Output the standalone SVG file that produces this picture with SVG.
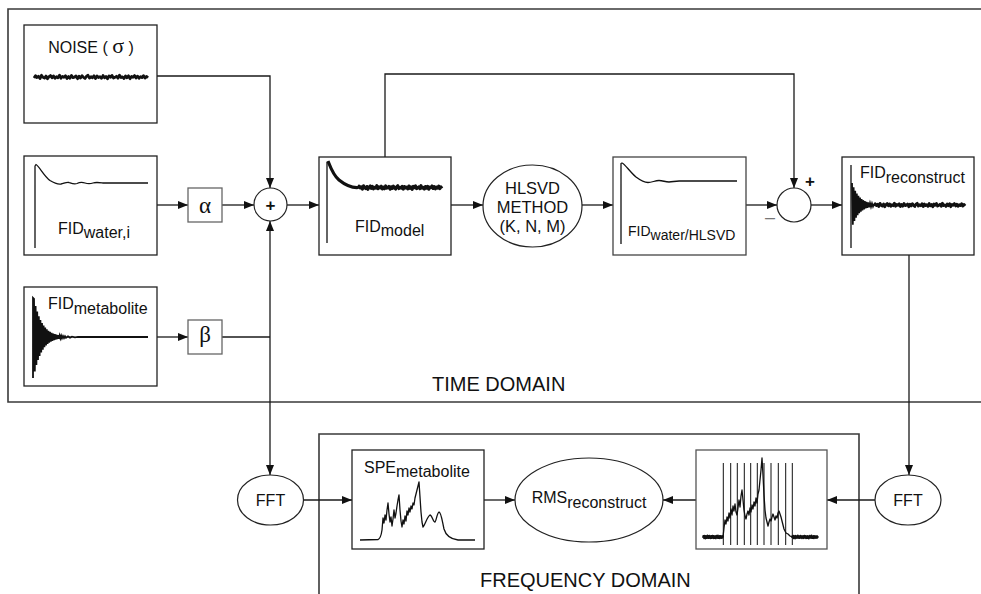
<svg xmlns="http://www.w3.org/2000/svg" xmlns:xlink="http://www.w3.org/1999/xlink" width="981" height="594" viewBox="0 0 981 594">
<style>
text{font-family:"Liberation Sans",Arial,sans-serif;fill:#111;font-size:16px}
.serif{font-family:"Liberation Serif","Times New Roman",serif}
.box{fill:#fff;stroke:#222;stroke-width:1.3}
.gbox{fill:#fff;stroke:#666;stroke-width:1.3}
.ell{fill:#fff;stroke:#222;stroke-width:1.2}
.dom{fill:none;stroke:#3a3a3a;stroke-width:1.6}
.sig{fill:none;stroke:#111;stroke-width:1.3;stroke-linejoin:round}
.dense{fill:none;stroke:#111;stroke-width:1.8;stroke-linejoin:miter}
.nz{fill:none;stroke:#111;stroke-linejoin:round}
.conn path{fill:none;stroke:#1a1a1a;stroke-width:1.3}
.arr{marker-end:url(#ah)}
</style>
<defs>
<marker id="ah" markerUnits="userSpaceOnUse" markerWidth="10" markerHeight="8" refX="10" refY="4" orient="auto">
<path d="M0,0 L10,4 L0,8 z" fill="#111"/>
</marker>
<path id="nz" vector-effect="non-scaling-stroke" d="M0,0.8 L1.5,-1.1 L3,0.4 L4.5,-0.6 L6,1.3 L7.5,-1.4 L9,0.2 L10.5,0.9 L12,-0.8 L13.5,1.5 L15,-0.3 L16.5,-1.2 L18,0.7 L19.5,-0.9 L21,1.1 L22.5,-0.2 L24,0.6 L25.5,-1.5 L27,1 L28.5,-0.5 L30,0.3 L31.5,-1 L33,1.2 L34.5,-0.4 L36,1 L37.5,-1.3 L39,0.5 L40.5,0.1 L42,-0.9 L43.5,1.4 L45,-0.6 L46.5,0.8 L48,-1.1 L49.5,0.3 L51,1.2 L52.5,-0.7 L54,-1.4 L55.5,0.9 L57,-0.2 L58.5,0.6 L60,-1 L61.5,1.3 L63,-0.8 L64.5,0.4 L66,-0.3 L67.5,1.1 L69,-1.2 L70.5,0.7 L72,-0.5 L73.5,1.5 L75,-0.9 L76.5,0.2 L78,-1.3 L79.5,0.9 L81,0.3 L82.5,-0.6 L84,1 L85.5,-1.5 L87,0.5 L88.5,-0.1 L90,1.2 L91.5,-0.8 L93,0.6 L94.5,-1 L96,1.4 L97.5,-0.4 L99,0.2 L100.5,-1.2 L102,0.8 L103.5,-0.7 L105,1.1 L106.5,-0.3 L108,0.5 L109.5,-1.1 L111,0.9 L112.5,-0.5 L114,0.7"/>
</defs>
<rect width="981" height="594" fill="#fff"/>

<g id="time-domain">
<path class="dom" d="M990,9 H8 V402 H990"/>
<text x="432" y="391" style="font-size:20px">TIME DOMAIN</text>
</g>
<g id="frequency-domain">
<path class="dom" d="M319,600 V434 H859 V600"/>
<text x="480" y="587" style="font-size:20px">FREQUENCY DOMAIN</text>
</g>

<g class="conn" id="connectors">
<path class="arr" d="M157,76 H270 V188"/>
<path class="arr" d="M157,205 H188"/>
<path class="arr" d="M222,205 H254"/>
<path class="arr" d="M157,337 H188"/>
<path d="M222,337 H270"/>
<path class="arr" d="M270,337 V221"/>
<path class="arr" d="M270,337 V475"/>
<path class="arr" d="M287,205 H319"/>
<path class="arr" d="M451,205 H483"/>
<path class="arr" d="M582,205 H613"/>
<path class="arr" d="M746,205 H777"/>
<path class="arr" d="M385,157 V74 H794 V188"/>
<path class="arr" d="M811,205 H842"/>
<path class="arr" d="M909,255 V475"/>
<path class="arr" d="M304,500 H352"/>
<path class="arr" d="M484,500 H515"/>
<path class="arr" d="M696,500 H663"/>
<path class="arr" d="M875,500 H827"/>
</g>

<g id="noise">
<rect class="box" x="24" y="25" width="133" height="98"/>
<text x="91" y="53" text-anchor="middle">NOISE ( <tspan class="serif" style="font-size:22px">σ</tspan> )</text>
<use href="#nz" xlink:href="#nz" class="nz" style="stroke-width:2.8" transform="translate(34,77) scale(1,1.2)"/>
</g>

<g id="fid-water">
<rect class="box" x="24" y="156" width="133" height="99"/>
<path class="sig" d="M35,248 L35,166 L36,164.5 C39,166 44,176 50,180.5 C54,183 57,184.5 61,184 C64,183.5 66,182 69,182.5 C72,183.5 74,184.5 77,183.5 C80,182 82,182 85,183 C88,184 90,184 93,183 C96,182 99,182.5 103,183 L148,183"/>
<text x="58" y="234">FID<tspan dy="4">water,i</tspan></text>
</g>

<g id="alpha">
<rect class="gbox" x="188" y="188" width="34" height="34"/>
<text class="serif" x="205" y="213" text-anchor="middle" style="font-size:23px">α</text>
</g>

<g id="fid-metabolite">
<rect class="box" x="24" y="287" width="133" height="99"/>
<path class="dense" d="M33,378 L33,298 L34,299 L34.8,371.4 L35.6,305.9 L36.4,365.1 L37.2,311.5 L38,360 L38.8,316.2 L39.6,355.9 L40.4,319.9 L41.2,352.4 L42,323 L42.8,349.6 L43.6,325.6 L44.4,347.3 L45.2,327.6 L46,345.5 L46.8,329.3 L47.6,343.9 L48.4,330.7 L49.2,342.7 L50,331.9 L50.8,341.6 L51.6,332.8 L52.4,340.8 L53.2,333.6 L54,340.1 L54.8,334.2 L55.6,339.5 L56.4,334.7 L57.2,339.1 L58,335.1 L58.8,338.7 L59.6,335.5 L60.4,338.4 L61.2,335.8 L62,338.2 L63,336 L64,338 L65,336.2 L66,337.8 L68,336.4 L70,337.6 L72,336.6 L75,337.3 L78,336.8 L148,337"/>
<text x="48" y="309">FID<tspan dy="5">metabolite</tspan></text>
</g>

<g id="beta">
<rect class="gbox" x="188" y="320" width="34" height="34"/>
<text class="serif" x="205" y="342" text-anchor="middle" style="font-size:23px">β</text>
</g>

<g id="sum">
<circle class="ell" cx="270.5" cy="204.5" r="16.5"/>
<text x="270.5" y="210.5" text-anchor="middle" style="font-size:17px;font-weight:bold">+</text>
</g>

<g id="fid-model">
<rect class="box" x="319" y="157" width="132" height="98"/>
<path class="sig" d="M327,243 L327,162"/>
<path class="sig" style="stroke-width:3.2" d="M328,161 C330,166 333,175 339,180 C344,184 350,188 358,187.5"/>
<use href="#nz" xlink:href="#nz" class="nz" style="stroke-width:3" transform="translate(358,187.5) scale(0.737,1.3)"/>
<text x="355" y="232">FID<tspan dy="4">model</tspan></text>
</g>

<g id="hlsvd">
<ellipse class="ell" cx="532.5" cy="206" rx="49.5" ry="41"/>
<text x="532.5" y="194" text-anchor="middle" style="font-size:16.5px">HLSVD</text>
<text x="532.5" y="213" text-anchor="middle" style="font-size:16.5px">METHOD</text>
<text x="532.5" y="232" text-anchor="middle" style="font-size:16.5px">(K, N, M)</text>
</g>

<g id="fid-water-hlsvd">
<rect class="box" x="613" y="157" width="133" height="98" style="stroke:#444"/>
<path class="sig" d="M621,244 L621,163.5 L622,163 C625,164 630,172 636,177 C640,180 644,182.5 648,182.5 C652,182.5 655,180.5 659,180.5 C663,180.5 665,182 669,182 C673,182 675,180.8 680,181 L737,181"/>
<text x="628" y="236" style="font-size:14px">FID<tspan dy="4">water/HLSVD</tspan></text>
</g>

<g id="diff">
<circle class="ell" cx="794" cy="205" r="17"/>
<text x="810" y="187" text-anchor="middle" style="font-size:17px;font-weight:bold">+</text>
<text x="770" y="223" text-anchor="middle" style="font-size:18px;fill:#777">–</text>
</g>

<g id="fid-reconstruct">
<rect class="box" x="842" y="157" width="132" height="98"/>
<path class="sig" d="M851,248 L851,165"/>
<path class="dense" d="M852,183 L852.8,224.7 L853.6,187.3 L854.4,220.9 L855.2,190.8 L856,217.8 L856.8,193.5 L857.6,215.3 L858.4,195.8 L859.2,213.3 L860,197.6 L860.8,211.7 L861.6,199 L862.4,210.4 L863.2,200.2 L864,209.3 L864.8,201.1 L865.6,208.5 L866.4,201.9 L867.2,207.8 L868,202.5 L869,207.2 L870,203.1 L871,206.7 L872,203.5 L873,206.5 L874,204"/>
<use href="#nz" xlink:href="#nz" class="nz" style="stroke-width:2.8" transform="translate(874,205) scale(0.8,1.2)"/>
<text x="860" y="178">FID<tspan dy="5">reconstruct</tspan></text>
</g>

<g id="fft-left">
<ellipse class="ell" cx="270.5" cy="500" rx="33" ry="25"/>
<text x="270.5" y="505.5" text-anchor="middle">FFT</text>
</g>

<g id="spe-metabolite">
<rect class="box" x="352" y="450" width="132" height="99"/>
<path class="sig" d="M360,540 L378,539.5 C380,539 381,537 382,530 L383,518 L384,523 L385,515 L386,520 L387,510 L388,503 L389,514 L390,522 L391,517 L392,526 L393,519 L394,510 L395,518 L396,513 L397,506 L398,500 L399,495 L400,510 L401,521 L402,527 L403,520 L404,524 L405,516 L406,521 L407,511 L408,515 L409,508 L410,512 L411,506 L412,509 L413,503 L414,505 L415,498 L416,494 L417,490 L418,486 L419,482 L420,497 L421,512 L422,522 L423,527 C425,525 427,517 430,515 C432,515 433,522 435,522 C436,522 437,513 439,512 C441,512 442,520 444,529 C446,536 450,539 458,540 L475,540"/>
<text x="364" y="473">SPE<tspan dy="4">metabolite</tspan></text>
</g>

<g id="rms">
<ellipse class="ell" cx="589" cy="500" rx="74" ry="42"/>
<text x="589" y="503" text-anchor="middle">RMS<tspan dy="5">reconstruct</tspan></text>
</g>

<g id="spe-reconstruct">
<rect class="box" x="696" y="450" width="131" height="99" style="stroke:#555"/>
<use href="#nz" xlink:href="#nz" class="nz" style="stroke-width:1.8" transform="translate(703,537) scale(0.175,1)"/>
<use href="#nz" xlink:href="#nz" class="nz" style="stroke-width:1.8" transform="translate(792,537) scale(0.228,1)"/>
<path class="sig" d="M723,537 L724,528 L725,520 L726,524 L727,517 L728,521 L729,513 L730,518 L731,509 L732,515 L733,506 L734,511 L735,504 L736,512 L737,515 L738,508 L739,500 L740,507 L741,496 L742,490 L743,500 L744,510 L745,516 L746,519 L747,514 L748,511 L749,515 L750,508 L751,512 L752,505 L753,509 L754,502 L755,506 L756,498 L757,503 L758,494 L759,490 L760,480 L761,470 L762,458 L763,475 L764,495 L765,510 L766,518 L767,522 L768,526 L769,522 L770,519 L771,521 L772,517 L773,514 L774,517 L775,520 L776,516 L777,518 L778,513 L779,511 L780,514 L781,517 L782,521 L783,525 L784,529 L785,531 L786,533 L788,534 L790,536 L792,537"/>
<path class="sig" style="stroke-width:1" d="M723.3,463 V545 M730.7,463 V545 M737.3,463 V545 M744.3,463 V545 M750.7,463 V545 M757.3,463 V545 M764,463 V545 M771,463 V545 M778.3,463 V545 M785.7,463 V545 M792.3,463 V545"/>
</g>

<g id="fft-right">
<ellipse class="ell" cx="908" cy="500" rx="33" ry="25"/>
<text x="908" y="505.5" text-anchor="middle">FFT</text>
</g>
</svg>
